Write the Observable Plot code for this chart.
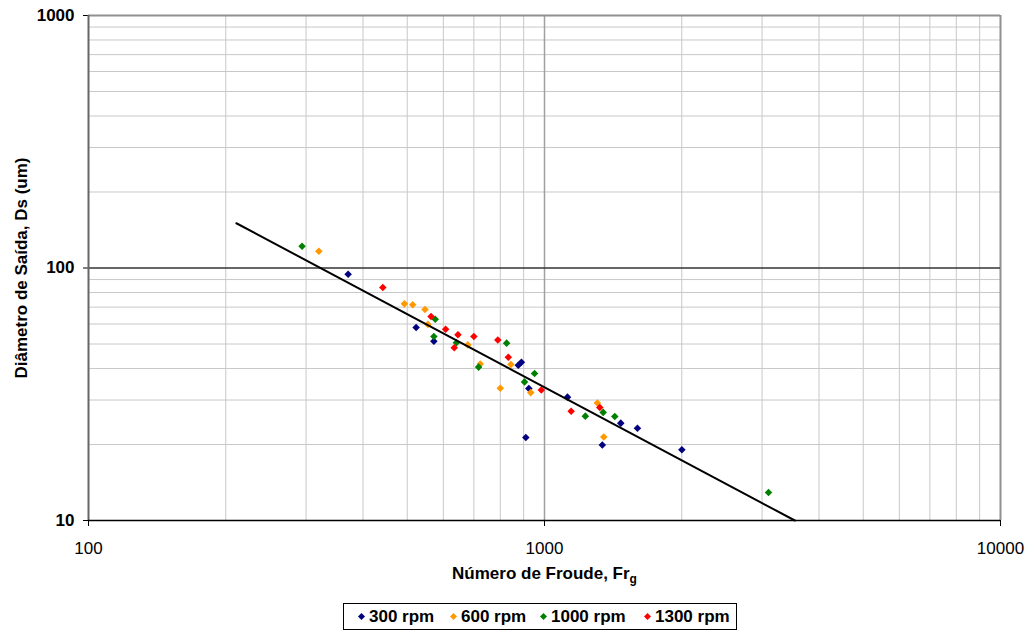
<!DOCTYPE html>
<html>
<head>
<meta charset="utf-8">
<script src="https://cdn.jsdelivr.net/npm/d3@7"></script>
<script src="https://cdn.jsdelivr.net/npm/@observablehq/plot@0.6"></script>
<style>
  body { margin: 0; background: white; font-family: "Liberation Sans", Arial, sans-serif; }
  #wrap { position: relative; width: 1025px; height: 632px; }
  [aria-label^="y-axis"] text { font-weight: bold; }
  #legend { position: absolute; left: 343px; top: 603px; width: 392px; height: 25px; border: 1px solid #000;
    font: bold 17px "Liberation Sans", Arial, sans-serif; color: #000; box-sizing: content-box; }
  .item { position: absolute; top: 0; height: 25px; display: flex; align-items: center; white-space: nowrap; }
  .item svg { margin-right: 4px; }
</style>
</head>
<body>
<div id="wrap"><div id="chart"></div><div id="legend"></div></div>
<script>
// Series: Froude number (x) and exit diameter Ds (y)
const fr300 = [371, 523, 572, 876, 890, 924, 910, 1123, 1470, 1599, 1339, 2001];
const ds300 = [94.5, 58.1, 51.3, 41.2, 42.3, 33.3, 21.3, 30.8, 24.3, 23.2, 19.9, 19.05];
const fr600 = [320, 493, 514, 547, 555, 679, 723, 844, 800, 933, 1306, 1349];
const ds600 = [116.6, 72.1, 71.5, 68.5, 59.8, 49.6, 41.7, 41.5, 33.4, 32.1, 29.2, 21.4];
const fr1000 = [294, 576, 572, 641, 717, 826, 951, 904, 1229, 1345, 1426, 3099];
const ds1000 = [122, 62.7, 53.5, 50.6, 40.5, 50.4, 38.2, 35.4, 25.9, 26.8, 25.8, 12.9];
const fr1300 = [442, 564, 607, 646, 634, 700, 790, 833, 984, 1144, 1322];
const ds1300 = [83.7, 64.3, 57.2, 54.4, 48.3, 53.5, 51.9, 44.3, 32.9, 27.1, 28.0];
// Trend line end points
const fitFr = [211, 3540];
const fitDs = [150.4, 10];

const seriesNames = ["300 rpm", "600 rpm", "1000 rpm", "1300 rpm"];
const seriesColors = ["#000080", "#FF9900", "#008000", "#FF0000"];

const xTicks = [100, 1000, 10000];
const yTicks = [10, 100, 1000];
const xMinor = [200, 300, 400, 500, 600, 700, 800, 900, 2000, 3000, 4000, 5000, 6000, 7000, 8000, 9000];
const yMinor = [20, 30, 40, 50, 60, 70, 80, 90, 200, 300, 400, 500, 600, 700, 800, 900];

const xTitle = "Número de Froude, Fr";
const xTitleSub = "g";
const yTitle = "Diâmetro de Saída, Ds (um)";

const allX = [fr300, fr600, fr1000, fr1300];
const allY = [ds300, ds600, ds1000, ds1300];
const points = [];
allX.forEach((xs, s) => xs.forEach((x, i) => points.push({x, y: allY[s][i], s: seriesNames[s]})));
const fit = fitFr.map((x, i) => ({x, y: fitDs[i]}));

const svg = Plot.plot({
  width: 1025,
  height: 600,
  marginLeft: 88,
  marginRight: 25,
  marginTop: 15,
  marginBottom: 80,
  style: {fontFamily: "'Liberation Sans', Arial, sans-serif", fontSize: "17px", background: "white", color: "#000", overflow: "visible"},
  x: {type: "log", domain: [100, 10000], ticks: xTicks, tickFormat: d => String(d), tickSize: 6, tickPadding: 15, label: null},
  y: {type: "log", domain: [10, 1000], ticks: yTicks, tickFormat: d => String(d), tickSize: 5, tickPadding: 9, label: null},
  color: {domain: seriesNames, range: seriesColors},
  marks: [
    Plot.ruleX(xMinor, {stroke: "#c8c8c8", strokeWidth: 1}),
    Plot.ruleY(yMinor, {stroke: "#c8c8c8", strokeWidth: 1}),
    Plot.ruleX([1000], {stroke: "#a0a0a0", strokeWidth: 1.5}),
    Plot.ruleX([10000], {stroke: "#909090", strokeWidth: 2}),
    Plot.ruleY([1000], {stroke: "#909090", strokeWidth: 2}),
    Plot.ruleY([100], {stroke: "#333", strokeWidth: 1.5}),
    Plot.dot(points, {x: "x", y: "y", fill: "s", symbol: "diamond2", r: 3.4, stroke: null}),
    Plot.line(fit, {x: "x", y: "y", stroke: "#000", strokeWidth: 2}),
    Plot.ruleX([100], {stroke: "#666", strokeWidth: 2}),
    Plot.ruleY([10], {stroke: "#000", strokeWidth: 1.5}),
    Plot.text([xTitle], {frameAnchor: "bottom", dy: 53, lineAnchor: "middle", textAnchor: "middle", fontWeight: "bold", fontSize: 17}),
    Plot.text([yTitle], {frameAnchor: "left", dx: -67, lineAnchor: "middle", textAnchor: "middle", rotate: -90, fontWeight: "bold", fontSize: 17})
  ]
});
d3.select(svg).selectAll("text").filter(function() { return this.textContent === xTitle; })
  .append("tspan").attr("dy", 4).attr("font-size", 12).text(xTitleSub);
document.getElementById("chart").appendChild(svg);

// Legend
const legend = d3.select("#legend");
const itemLeft = [14, 106, 196, 300];
seriesNames.forEach((name, i) => {
  const it = legend.append("div").attr("class", "item").style("left", itemLeft[i] + "px");
  const s = it.append("svg").attr("width", 7).attr("height", 7);
  s.append("path").attr("d", "M3.5,0L7,3.5L3.5,7L0,3.5Z").attr("fill", seriesColors[i]);
  it.append("span").text(name);
});
</script>
</body>
</html>
